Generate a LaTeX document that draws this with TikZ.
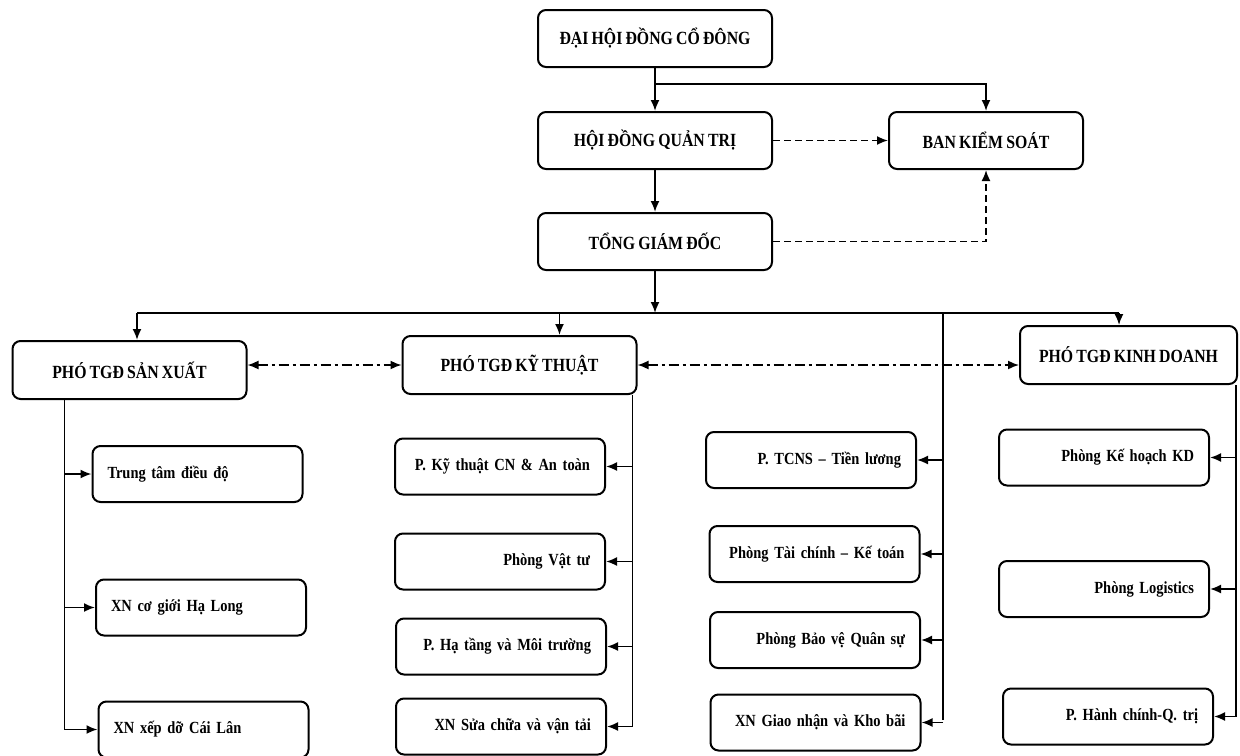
\documentclass[tikz,border=0pt]{standalone}
\usepackage{fontspec}
\setmainfont{Liberation Serif}[FakeStretch=0.85, WordSpace=0.8]
\usetikzlibrary{arrows.meta,positioning}
\tikzset{
  box/.style={draw, line width=1pt, rounded corners=4pt, align=center, inner sep=2pt, font=\bfseries\fontsize{9.3}{10}\selectfont},
  ubox/.style={box, minimum width=117pt, minimum height=28.5pt},
  sbox/.style={box, text width=90pt, inner xsep=7.5pt, minimum height=28pt, align=right, font=\bfseries\fontsize{8.5}{10}\selectfont},
  lbox/.style={sbox, align=left},
  wire/.style={line width=0.9pt},
  flow/.style={-{Latex[length=5.5pt,width=4.5pt]}, wire},
  check/.style={flow, dash pattern=on 3.5pt off 2pt},
  link/.style={{Latex[length=5.5pt,width=4.5pt]}-{Latex[length=5.5pt,width=4.5pt]}, line width=0.8pt, dash pattern=on 5pt off 2pt on 1.5pt off 2pt},
}
\begin{document}
\begin{tikzpicture}[x=0.5pt, y=-0.5pt]
\useasboundingbox (0,0) rectangle (1240,755);
\node[ubox] (dh) at (655,38.5) {ĐẠI HỘI ĐỒNG CỔ ĐÔNG};
\node[ubox, below=21.5pt of dh] (hd) {HỘI ĐỒNG QUẢN TRỊ};
\node[ubox, below=21pt of hd] (tgd) {TỔNG GIÁM ĐỐC};
\node[ubox, minimum width=97pt, right=57.5pt of hd] (bks) {BAN KIỂM SOÁT};

\node[ubox, minimum height=29pt] (ptsx) at (129.5,370) {PHÓ TGĐ SẢN XUẤT};
\node[ubox, minimum height=29pt] (ptkt) at (519.5,365) {PHÓ TGĐ KỸ THUẬT};
\node[ubox, minimum height=29pt, minimum width=108.5pt] (ptkd) at (1128.5,355) {PHÓ TGĐ KINH DOANH};

\node[lbox] (sx1) at (197.5,474) {Trung tâm điều độ};
\node[lbox] (sx2) at (201,607.5) {XN cơ giới Hạ Long};
\node[lbox] (sx3) at (203.5,729.5) {XN xếp dỡ Cái Lân};

\node[sbox] (kt1) at (500,466.5) {P. Kỹ thuật CN \& An toàn};
\node[sbox] (kt2) at (500,561.5) {Phòng Vật tư};
\node[sbox] (kt3) at (501,646.5) {P. Hạ tầng và Môi trường};
\node[sbox] (kt4) at (501,726.5) {XN Sửa chữa và vận tải};

\node[sbox] (tc1) at (811,460) {P. TCNS – Tiền lương};
\node[sbox] (tc2) at (814.5,554) {Phòng Tài chính – Kế toán};
\node[sbox] (tc3) at (815,640) {Phòng Bảo vệ Quân sự};
\node[sbox] (tc4) at (815.5,722.5) {XN Giao nhận và Kho bãi};

\node[sbox] (kd1) at (1104,457.5) {Phòng Kế hoạch KD};
\node[sbox] (kd2) at (1104,589) {Phòng Logistics};
\node[sbox] (kd3) at (1108,716.5) {P. Hành chính-Q. trị};

\coordinate[below=8pt of dh] (brk);
\draw[flow] (dh) -- (hd);
\draw[flow] (brk) -| (bks);
\draw[flow] (hd) -- (tgd);
\draw[check] (hd) -- (bks);
\draw[check] (tgd) -| (bks);

\coordinate[below=21pt of tgd] (bus);
\coordinate (a1) at ([xshift=3.75pt]ptsx.north);
\coordinate (a2) at ([xshift=20pt]ptkt.north);
\coordinate (a3) at ([xshift=-4.75pt]ptkd.north);
\coordinate (spine) at (943,720);
\draw[flow] (tgd) -- (bus);
\draw[wire] (a1 |- bus) -- (a3 |- bus);
\draw[flow] (a1 |- bus) -- (a1);
\draw[flow] (a2 |- bus) -- (a2);
\draw[flow] (a3 |- bus) -- (a3);

\draw[link] (ptsx.east |- ptkt.west) -- (ptkt.west);
\draw[link] (ptkt.east) -- (ptkt.east -| ptkd.west);

\coordinate (s) at ([xshift=26.5pt]ptsx.south west);
\coordinate (k) at ([xshift=-2.5pt]ptkt.south east);
\coordinate (d) at ([xshift=-1pt]ptkd.south east);
\foreach \n in {sx1,sx2,sx3} \draw[flow] (s) |- (\n.west);
\foreach \n in {kt1,kt2,kt3,kt4} \draw[flow] (k) |- (\n.east);
\draw[wire] (spine |- bus) -- (spine);
\foreach \n in {tc1,tc2,tc3,tc4} \draw[flow] (spine |- \n.east) -- (\n.east);
\foreach \n in {kd1,kd2,kd3} \draw[flow] (d) |- (\n.east);
\end{tikzpicture}
\end{document}
